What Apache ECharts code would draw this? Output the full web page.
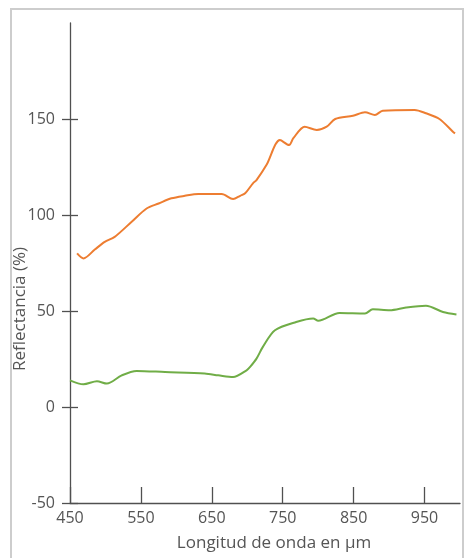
<!DOCTYPE html>
<html>
<head>
<meta charset="utf-8">
<script src="https://cdn.jsdelivr.net/npm/echarts@6/dist/echarts.min.js"></script>
<style>
  html, body { margin: 0; padding: 0; background: #fff; }
  #frame { position: absolute; left: 10px; top: 8px; width: 450px; height: 560px; border: 2px solid #cdcdcd; }
  #chart { position: absolute; left: 0; top: 0; width: 464px; height: 558px; }
</style>
</head>
<body>
<div id="frame"></div>
<div id="chart"></div>
<script>
// longitud de onda (x) y reflectancia (%)
var orangeX = [460, 469, 485, 499, 513, 537, 558, 575, 593, 612, 631, 664, 680, 690, 697, 708, 713, 727, 746, 759, 765, 781, 798, 812, 824, 849, 866, 880, 891, 936, 952, 971, 990, 993];
var orangeY = [80, 77.4, 82, 86, 88.6, 96.5, 103.4, 106, 108.7, 110, 110.9, 110.9, 108.3, 110, 111.3, 116.5, 118.2, 126, 139, 136.4, 140, 146, 144.3, 146, 150, 151.7, 153.5, 152.1, 154.3, 154.7, 153, 150, 143.4, 142.5];
var greenX = [450, 469, 488, 502, 523, 544, 584, 640, 659, 680, 699, 704, 713, 722, 739, 769, 793, 800, 830, 866, 877, 901, 924, 952, 976, 995];
var greenY = [13.9, 11.8, 13.4, 12.2, 16.5, 18.8, 18.2, 17.4, 16.5, 15.6, 19.1, 20.9, 25.2, 31.3, 40, 44.3, 46.1, 44.9, 49, 48.7, 50.9, 50.4, 51.8, 52.7, 49.5, 48.2];
var xTicks = [450, 550, 650, 750, 850, 950];
var yTicks = [-50, 0, 50, 100, 150];

function pairs(xs, ys) {
  return xs.map(function (x, i) { return [x, ys[i]]; });
}

var lineColor = '#505050',
  textColor = '#555555',
  font = 'Open Sans';

var chart = echarts.init(document.getElementById('chart'));
var option = {
  animation: false,
  grid: { left: 70, right: 4, top: 23, bottom: 55, containLabel: false, outerBoundsMode: 'none' },
  xAxis: {
    type: 'value',
    min: 450,
    max: 1000,
    name: 'Longitud de onda en µm',
    nameLocation: 'middle',
    nameGap: 32,
    nameMoveOverlap: false,
    nameTextStyle: { color: textColor, fontSize: 17, fontFamily: font, padding: [0, 0, 0, 18] },
    axisLine: { onZero: false, lineStyle: { color: lineColor, width: 1.3 } },
    axisTick: { show: true, inside: true, length: 16, customValues: xTicks, lineStyle: { color: lineColor, width: 1.3 } },
    axisLabel: { customValues: xTicks, color: textColor, fontSize: 16, fontFamily: font, margin: 7 },
    splitLine: { show: false }
  },
  yAxis: [{
    type: 'value',
    min: -50,
    max: 200,
    name: 'Reflectancia (%)',
    nameLocation: 'middle',
    nameGap: 41,
    nameMoveOverlap: false,
    nameTextStyle: { color: textColor, fontSize: 17, fontFamily: font, padding: [0, 92, 0, 0] },
    axisLine: { show: true, onZero: false, lineStyle: { color: lineColor, width: 1.3 } },
    axisTick: { show: true, length: 8, customValues: yTicks, lineStyle: { color: lineColor, width: 1.3 } },
    axisLabel: { customValues: yTicks, color: textColor, fontSize: 16, fontFamily: font, margin: 15 },
    splitLine: { show: false }
  }, {
    // segunda mitad de las marcas cruzadas
    type: 'value',
    min: -50,
    max: 200,
    position: 'left',
    offset: 0,
    axisLine: { show: false, onZero: false },
    axisTick: { show: true, inside: true, length: 8, customValues: yTicks, lineStyle: { color: lineColor, width: 1.3 } },
    axisLabel: { show: false },
    splitLine: { show: false }
  }],
  series: [{
    type: 'line',
    data: pairs(orangeX, orangeY),
    showSymbol: false,
    smooth: 0.3,
    lineStyle: { color: '#ED7D31', width: 2 }
  }, {
    type: 'line',
    data: pairs(greenX, greenY),
    showSymbol: false,
    smooth: 0.3,
    lineStyle: { color: '#70AD47', width: 2 }
  }]
};
chart.setOption(option);
</script>
</body>
</html>
